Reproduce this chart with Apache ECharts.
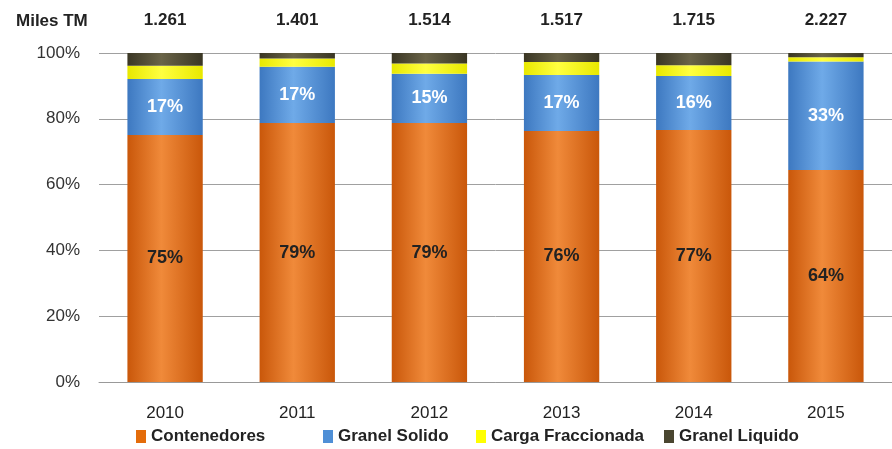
<!DOCTYPE html>
<html>
<head>
<meta charset="utf-8">
<script src="https://cdn.jsdelivr.net/npm/echarts@6/dist/echarts.min.js"></script>
<style>
  html, body { margin: 0; padding: 0; background: #fff; }
  #main { width: 892px; height: 449px; }
</style>
</head>
<body>
<div id="main"></div>
<script>
var years = ['2010', '2011', '2012', '2013', '2014', '2015'];
var totales = ['1.261', '1.401', '1.514', '1.517', '1.715', '2.227'];
// porcentajes por tipo de carga
var contenedores = [75.1, 78.7, 78.7, 76.3, 76.6, 64.4];
var granelSolido = [17.0, 17.1, 15.0, 17.0, 16.4, 33.0];
var cargaFraccionada = [4.0, 2.5, 3.1, 4.0, 3.3, 1.3];
var granelLiquido = [3.9, 1.7, 3.2, 2.7, 3.7, 1.3];

var fuente = "'Liberation Sans', sans-serif";

function cilindro(oscuro, claro) {
    return new echarts.graphic.LinearGradient(0, 0, 1, 0, [
        {offset: 0, color: oscuro},
        {offset: 0.45, color: claro},
        {offset: 1, color: oscuro}
    ]);
}

// una leyenda por serie para colocar cada una como en el original
function leyenda(nombre, color, x) {
    return {
        bottom: -1,
        left: x,
        itemWidth: 10,
        itemHeight: 13,
        icon: 'rect',
        textStyle: {
            fontFamily: fuente,
            fontWeight: 'bold',
            fontSize: 17,
            color: '#222'
        },
        data: [{name: nombre, itemStyle: {color: color}}]
    };
}

var chart = echarts.init(document.getElementById('main'));

var option = {
    animation: false,
    grid: {
        left: 99,
        right: -11,
        top: 53,
        bottom: 67
    },
    legend: [
        leyenda('Contenedores', '#E46C0A', 131),
        leyenda('Granel Solido', '#4F8FD6', 318),
        leyenda('Carga Fraccionada', '#FFFF00', 471),
        leyenda('Granel Liquido', '#4A4630', 659)
    ],
    graphic: [{
        type: 'text',
        left: 16,
        top: 13,
        style: {
            text: 'Miles TM',
            fontFamily: fuente,
            fontWeight: 'bold',
            fontSize: 17,
            fill: '#222'
        }
    }],
    xAxis: [{
        type: 'category',
        data: years,
        axisLine: {lineStyle: {color: '#999'}},
        axisTick: {show: false},
        axisLabel: {
            fontFamily: fuente,
            fontSize: 17,
            color: '#222',
            margin: 23
        }
    }, {
        type: 'category',
        position: 'top',
        data: totales,
        axisLine: {show: false},
        axisTick: {show: false},
        axisLabel: {
            fontFamily: fuente,
            fontWeight: 'bold',
            fontSize: 17,
            color: '#222',
            margin: 24
        }
    }],
    yAxis: {
        type: 'value',
        min: 0,
        max: 100,
        interval: 20,
        axisLine: {show: false},
        axisTick: {show: false},
        axisLabel: {
            formatter: '{value}%',
            fontFamily: fuente,
            fontSize: 17,
            color: '#333',
            margin: 19
        },
        splitLine: {lineStyle: {color: '#a0a0a0', width: 1}}
    },
    series: [{
        name: 'Contenedores',
        type: 'bar',
        stack: 'total',
        barWidth: '57%',
        data: contenedores,
        itemStyle: {color: cilindro('#C9570A', '#F08A3A')},
        label: {
            show: true,
            position: 'inside',
            formatter: function (p) { return Math.round(p.value) + '%'; },
            fontFamily: fuente,
            fontWeight: 'bold',
            fontSize: 18,
            color: '#222'
        }
    }, {
        name: 'Granel Solido',
        type: 'bar',
        stack: 'total',
        data: granelSolido,
        itemStyle: {color: cilindro('#3D78C0', '#6FAAE8')},
        label: {
            show: true,
            position: 'inside',
            formatter: function (p) { return Math.round(p.value) + '%'; },
            fontFamily: fuente,
            fontWeight: 'bold',
            fontSize: 18,
            color: '#fff'
        }
    }, {
        name: 'Carga Fraccionada',
        type: 'bar',
        stack: 'total',
        data: cargaFraccionada,
        itemStyle: {color: cilindro('#E8E800', '#FFFF40')}
    }, {
        name: 'Granel Liquido',
        type: 'bar',
        stack: 'total',
        data: granelLiquido,
        itemStyle: {color: cilindro('#3A3624', '#6A6448')}
    }]
};

chart.setOption(option);
</script>
</body>
</html>
